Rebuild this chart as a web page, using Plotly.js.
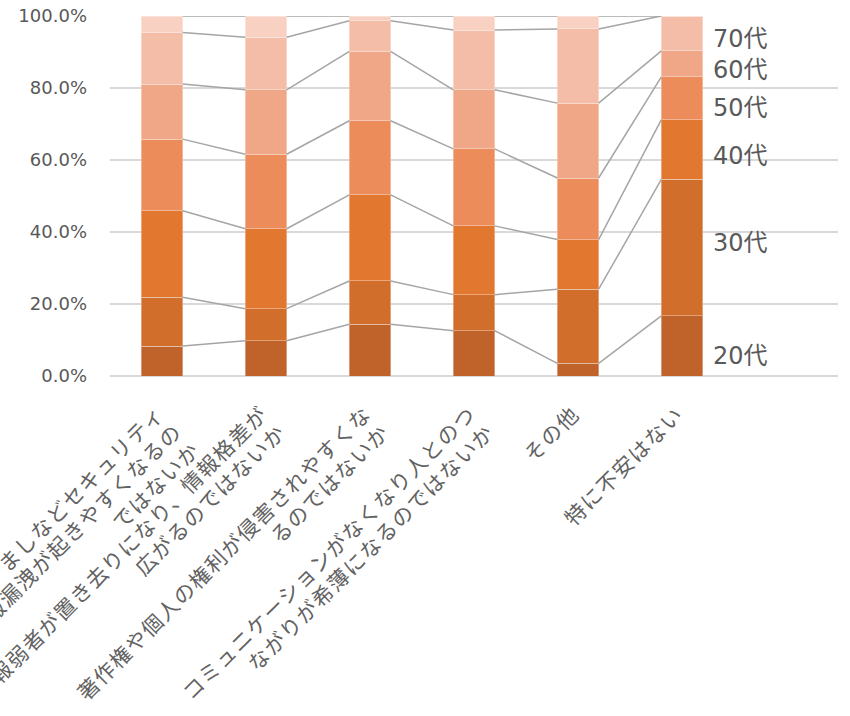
<!DOCTYPE html>
<html>
<head>
<meta charset="utf-8">
<script src="https://cdn.plot.ly/plotly-3.0.1.min.js"></script>
<style>
  html, body { margin: 0; padding: 0; background: #ffffff; }
  #chart { width: 850px; height: 716px; }
</style>
</head>
<body>
<div id="chart"></div>
<script>
// 回答カテゴリ（改行位置は<br>）
const categories = [
  "なりすましなどセキュリティ<br>事故や情報漏洩が起きやすくなるの<br>ではないか",
  "情報弱者が置き去りになり、情報格差が<br>広がるのではないか",
  "著作権や個人の権利が侵害されやすくな<br>るのではないか",
  "コミュニケーションがなくなり人とのつ<br>ながりが希薄になるのではないか",
  "その他",
  "特に不安はない"
];

// 年代別の構成比（%）
const ageGroups = ["20代", "30代", "40代", "50代", "60代", "70代", "80代以上"];
const age20 = [8.3, 9.8, 14.4, 12.6, 3.5, 16.7];
const age30 = [13.6, 8.9, 12.0, 10.0, 20.6, 37.9];
const age40 = [24.0, 22.2, 23.9, 19.1, 13.8, 16.6];
const age50 = [19.9, 20.7, 20.6, 21.4, 17.1, 11.9];
const age60 = [15.3, 17.9, 19.3, 16.4, 20.8, 7.2];
const age70 = [14.3, 14.6, 8.5, 16.6, 20.6, 9.7];
const age80 = [4.6, 5.9, 1.3, 3.9, 3.6, 0.0];
const seriesValues = [age20, age30, age40, age50, age60, age70, age80];

// 右側に表示する年代ラベル
const sideLabels = ["20代", "30代", "40代", "50代", "60代", "70代"];

// --- styling ---
const colors = ["#c0632a", "#d26e2b", "#e27730", "#ec8c5a", "#f0a788", "#f4bda8", "#f8d1c3"];
const sideLabelY = [5.6, 37.0, 61.2, 74.5, 85.0, 93.6];
const BAR_W = 0.397;
const FONT = "'Noto Sans CJK JP', 'Noto Sans', sans-serif";
const NUM_FONT = "'DejaVu Sans', 'Noto Sans CJK JP', sans-serif";
const TEXT_COLOR = "#595959";
const CAT_COLOR = "#626262";

// rotated category label geometry (pixels)
const CAT_FONT = 21;
const CAT_SPACING = "1.5px";
const CAT_ANGLE = -45;
const CAT_LINE = 25.5;      // distance between wrapped lines
const CAT_END_X = -3;       // end of first line relative to bar centre
const CAT_END_Y = 33;       // end of first line below the axis
const CAT_BOX_H = 30;       // single-line annotation box height

const xIdx = categories.map((_, i) => i);

const traces = [];

// stacked bars
seriesValues.forEach((vals, s) => {
  traces.push({
    type: "bar",
    name: ageGroups[s],
    x: xIdx,
    y: vals,
    width: BAR_W,
    marker: { color: colors[s], line: { color: "rgba(255,255,255,0.35)", width: 1 } },
    hoverinfo: "name+y"
  });
});

// series lines joining the top of each segment between neighbouring bars
const cum = [];
seriesValues.forEach((vals, s) => {
  cum.push(vals.map((v, i) => (s === 0 ? 0 : cum[s - 1][i]) + v));
});
const lx = [], ly = [];
cum.forEach(tops => {
  for (let i = 0; i < tops.length - 1; i++) {
    lx.push(i + BAR_W / 2, i + 1 - BAR_W / 2, null);
    ly.push(tops[i], tops[i + 1], null);
  }
});
traces.push({
  type: "scatter",
  mode: "lines",
  x: lx,
  y: ly,
  line: { color: "#a5a5a5", width: 1.5 },
  hoverinfo: "skip",
  showlegend: false
});

const annotations = [];

// age labels beside the last bar
sideLabels.forEach((t, k) => {
  annotations.push({
    x: categories.length - 1 + BAR_W / 2,
    y: sideLabelY[k],
    xref: "x",
    yref: "y",
    xanchor: "left",
    yanchor: "middle",
    xshift: 8,
    text: t,
    showarrow: false,
    font: { family: NUM_FONT, size: 24, color: TEXT_COLOR }
  });
});

// rotated, right-aligned category labels (one annotation per wrapped line)
const diag = Math.SQRT1_2;
categories.forEach((label, i) => {
  label.split("<br>").forEach((line, k) => {
    const ex = CAT_END_X + k * CAT_LINE * diag;
    const ey = CAT_END_Y + k * CAT_LINE * diag;
    annotations.push({
      x: i,
      y: 0,
      xref: "x",
      yref: "paper",
      xanchor: "right",
      yanchor: "top",
      xshift: ex + CAT_BOX_H * diag / 2,
      yshift: -(ey - CAT_BOX_H * diag / 2),
      textangle: CAT_ANGLE,
      text: '<span style="letter-spacing:' + CAT_SPACING + '">' + line + '</span>',
      showarrow: false,
      borderwidth: 0,
      borderpad: 0,
      font: { family: FONT, size: CAT_FONT, color: CAT_COLOR }
    });
  });
});

const layout = {
  width: 850,
  height: 716,
  margin: { l: 110, r: 12, t: 16, b: 340 },
  paper_bgcolor: "#ffffff",
  plot_bgcolor: "#ffffff",
  barmode: "stack",
  showlegend: false,
  font: { family: FONT, color: TEXT_COLOR },
  xaxis: {
    range: [-0.5, 6.5],
    tickvals: xIdx,
    showticklabels: false,
    showgrid: false,
    zeroline: false,
    showline: false,
    ticks: ""
  },
  yaxis: {
    range: [0, 100],
    dtick: 20,
    tickformat: ".1f",
    ticksuffix: "%",
    tickfont: { family: NUM_FONT, size: 18, color: TEXT_COLOR },
    gridcolor: "#d9d9d9",
    gridwidth: 1.3,
    zeroline: true,
    zerolinecolor: "#d9d9d9",
    zerolinewidth: 1.3,
    showline: false,
    ticklabelstandoff: 22
  },
  annotations: annotations
};

Plotly.newPlot("chart", traces, layout, { displayModeBar: false, staticPlot: true });
</script>
</body>
</html>
